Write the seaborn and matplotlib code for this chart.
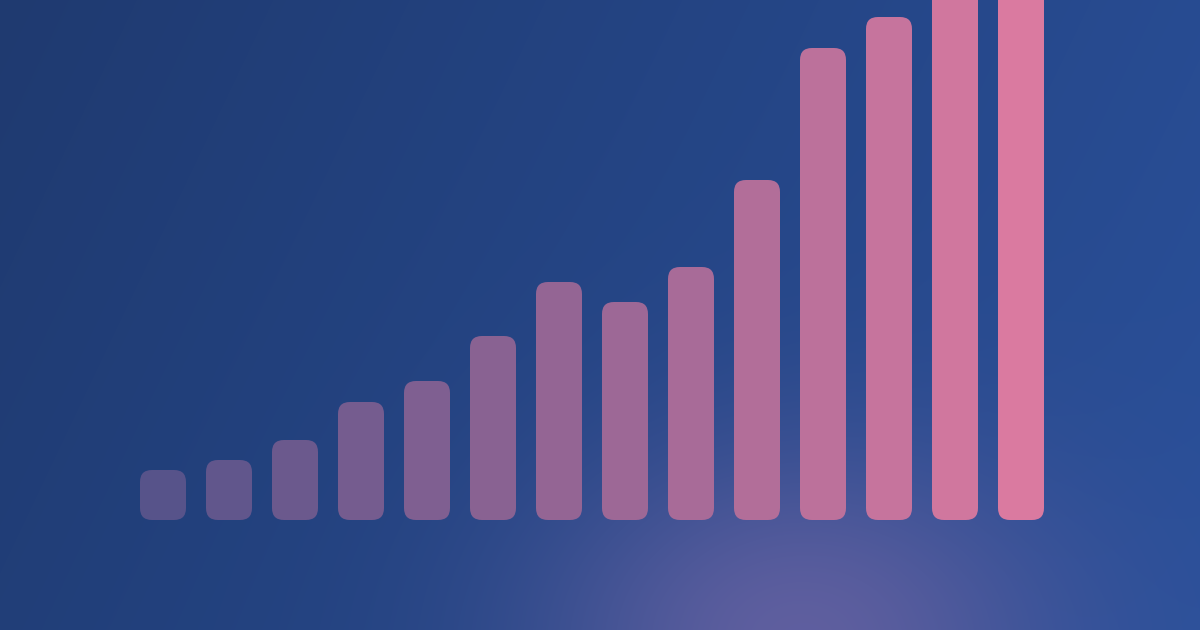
import numpy as np
import pandas as pd
import matplotlib
matplotlib.use("Agg")
import matplotlib.pyplot as plt
from matplotlib.patches import FancyBboxPatch
import seaborn as sns

# bar heights, in pixels above the baseline (last two run off the top)
steps = list(range(1, 15))
heights = [50, 60, 80, 118, 139, 184, 238, 218, 253, 340, 472, 503, 545, 560]

bar_colors = sns.blend_palette(["#57538a", "#da7aa0"], n_colors=len(steps))

W, H = 1200, 630

# background: dark blue linear gradient plus a purple glow at the bottom
yy, xx = np.mgrid[0:H, 0:W].astype(float)
left = np.array([0x1f, 0x3a, 0x70]) / 255
right = np.array([0x2a, 0x50, 0x9a]) / 255
t = (xx / W * 0.8 + yy / H * 0.2)[..., None]
bg = left * (1 - t) + right * t
glow = np.array([0x62, 0x60, 0xa0]) / 255
d2 = ((xx - 800) / 250) ** 2 + ((yy - 640) / 190) ** 2
g = (0.95 * np.exp(-d2))[..., None]
bg = bg * (1 - g) + glow * g

fig = plt.figure(figsize=(12, 6.3), dpi=100)
bg_ax = fig.add_axes([0, 0, 1, 1])
bg_ax.imshow(bg, aspect="auto", extent=[0, W, 0, H])
bg_ax.set_axis_off()

ax = fig.add_axes([0, 0, 1, 1])
ax.patch.set_alpha(0)
df = pd.DataFrame({"step": steps, "height": heights})
sns.barplot(data=df, x="step", y="height", hue="step", palette=bar_colors,
            legend=False, width=46 / 66, ax=ax, saturation=1)

# swap the square bars for rounded ones
for p in list(ax.patches):
    x, y = p.get_x(), p.get_y()
    w, h = p.get_width(), p.get_height()
    rb = FancyBboxPatch((x, y), w, h,
                        boxstyle="round,pad=0,rounding_size=0.18",
                        mutation_aspect=66,
                        facecolor=p.get_facecolor(), edgecolor="none")
    p.remove()
    ax.add_patch(rb)

ax.set_xlim(-163 / 66, (1200 - 163) / 66)
ax.set_ylim(-110, 520)
ax.set_axis_off()

fig.savefig("out.png", dpi=100)
